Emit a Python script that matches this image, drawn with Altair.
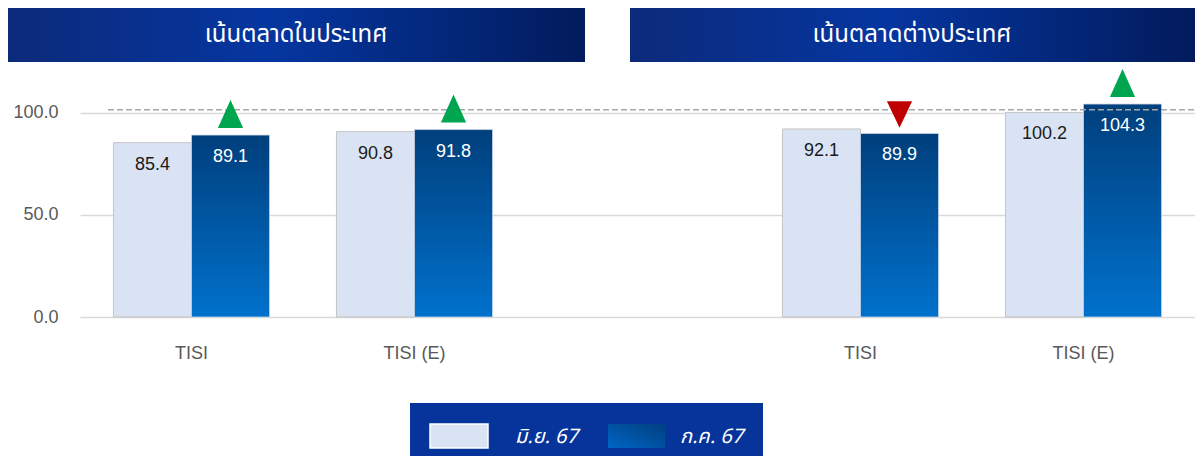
import altair as alt
import pandas as pd

# ---- data -------------------------------------------------------------
panels = ["เน้นตลาดในประเทศ", "เน้นตลาดต่างประเทศ"]
indices = ["TISI", "TISI (E)"]
series = ["มิ.ย. 67", "ก.ค. 67"]
jun_values = [85.4, 90.8, 92.1, 100.2]
jul_values = [89.1, 91.8, 89.9, 104.3]
y_ticks = [0, 50, 100]
reference_level = [101.5]

keys = [f"{p}|{i}" for p in panels for i in indices]
x_domain = keys[:2] + ["gap"] + keys[2:]

bars_df = pd.DataFrame({
    "key": keys * 2,
    "series": [series[0]] * len(keys) + [series[1]] * len(keys),
    "value": jun_values + jul_values,
})
arrow_df = pd.DataFrame({
    "key": keys,
    "series": [series[1]] * len(keys),
    "value": jul_values,
    "prev": jun_values,
})
level_df = pd.DataFrame({"value": reference_level})
one = pd.DataFrame({"_": [0]})

# ---- styles -----------------------------------------------------------
NUM_FONT = "Liberation Sans Narrow, Arial Narrow, Liberation Sans, Arial"
THAI_FONT = "Noto Sans Thai, Tahoma, Noto Sans, sans-serif"
LIGHT = "#dae3f3"
GRAD_BAR = alt.Gradient(
    gradient="linear",
    stops=[alt.GradientStop(color="#003f7c", offset=0),
           alt.GradientStop(color="#0071cc", offset=1)],
    x1=0, x2=0, y1=0, y2=1,
)
GRAD_BANNER = alt.Gradient(
    gradient="linear",
    stops=[alt.GradientStop(color="#0c2a7a", offset=0),
           alt.GradientStop(color="#0536a0", offset=0.45),
           alt.GradientStop(color="#021b5c", offset=1)],
    x1=0, x2=1, y1=0, y2=0,
)
GRAD_SWATCH = alt.Gradient(
    gradient="linear",
    stops=[alt.GradientStop(color="#0065c4", offset=0),
           alt.GradientStop(color="#003f80", offset=1)],
    x1=0, x2=1, y1=1, y2=0,
)

x_enc = alt.X(
    "key:N",
    scale=alt.Scale(domain=x_domain, paddingInner=0.3, paddingOuter=0.15),
    axis=alt.Axis(
        title=None, labelAngle=0, ticks=False, domain=False, grid=False,
        labelExpr="indexof(datum.label, '|') >= 0 ? split(datum.label, '|')[1] : ''",
        labelPadding=27, labelFont=NUM_FONT, labelFontSize=18, labelColor="#595959",
    ),
)
xoff = alt.XOffset("series:N", scale=alt.Scale(domain=series, paddingInner=0, paddingOuter=0))
y_enc = alt.Y(
    "value:Q",
    scale=alt.Scale(domain=[0, 120], nice=False),
    axis=alt.Axis(
        title=None, values=y_ticks, format=".1f", ticks=False, domain=False,
        labelPadding=22, gridColor="#d9d9d9", gridWidth=1.5,
        labelFont=NUM_FONT, labelFontSize=18, labelColor="#595959",
    ),
)

# ---- layers -----------------------------------------------------------
light_bars = alt.Chart(bars_df).transform_filter(
    alt.datum.series == series[0]
).mark_bar(color=LIGHT, stroke="#c4c4c4", strokeWidth=1).encode(
    x=x_enc, xOffset=xoff, y=y_enc
)
dark_bars = alt.Chart(bars_df).transform_filter(
    alt.datum.series == series[1]
).mark_bar(color=GRAD_BAR, stroke="#c9d6ea", strokeWidth=0.8).encode(
    x=x_enc, xOffset=xoff, y=y_enc
)
light_labels = alt.Chart(bars_df).transform_filter(
    alt.datum.series == series[0]
).mark_text(dy=22, baseline="middle", font=NUM_FONT, fontSize=18, color="#1a1a1a").encode(
    x=x_enc, xOffset=xoff, y=y_enc, text=alt.Text("value:Q", format=".1f")
)
dark_labels = alt.Chart(bars_df).transform_filter(
    alt.datum.series == series[1]
).mark_text(dy=22, baseline="middle", font=NUM_FONT, fontSize=18, color="white").encode(
    x=x_enc, xOffset=xoff, y=y_enc, text=alt.Text("value:Q", format=".1f")
)
UP = "M0,-2.5L0.9,-0.5L-0.9,-0.5Z"
DOWN = "M-0.9,-2.3L0.9,-2.3L0,-0.4Z"
arrows = alt.Chart(arrow_df).mark_point(filled=True, size=784, opacity=1, strokeWidth=0).encode(
    x=x_enc, xOffset=xoff, y=y_enc,
    shape=alt.condition("datum.value >= datum.prev", alt.value(UP), alt.value(DOWN)),
    color=alt.condition("datum.value >= datum.prev", alt.value("#00a550"), alt.value("#c00000")),
)
level_rule = alt.Chart(level_df).mark_rule(
    color="#a6a6a6", strokeDash=[6, 3], strokeWidth=1.5
).encode(x=alt.value(28), x2=alt.value(1115), y=y_enc)

# banners
banner_left = alt.Chart(one).mark_rect(color=GRAD_BANNER).encode(
    x=alt.value(-72), x2=alt.value(505), y=alt.value(-64), y2=alt.value(-10))
banner_right = alt.Chart(one).mark_rect(color=GRAD_BANNER).encode(
    x=alt.value(550), x2=alt.value(1115), y=alt.value(-64), y2=alt.value(-10))
banner_text_left = alt.Chart(one).mark_text(
    text=panels[0], font=THAI_FONT, fontSize=24, color="white", align="center", baseline="middle"
).encode(x=alt.value(216), y=alt.value(-37))
banner_text_right = alt.Chart(one).mark_text(
    text=panels[1], font=THAI_FONT, fontSize=24, color="white", align="center", baseline="middle"
).encode(x=alt.value(832), y=alt.value(-37))

# legend
legend_box = alt.Chart(one).mark_rect(color="#06349a").encode(
    x=alt.value(330), x2=alt.value(683), y=alt.value(331), y2=alt.value(391))
sw_light = alt.Chart(one).mark_rect(color=LIGHT, stroke="white", strokeWidth=1.5).encode(
    x=alt.value(350), x2=alt.value(408), y=alt.value(352), y2=alt.value(376))
sw_dark = alt.Chart(one).mark_rect(color=GRAD_SWATCH).encode(
    x=alt.value(528), x2=alt.value(585), y=alt.value(352), y2=alt.value(376))
lg_text1 = alt.Chart(one).mark_text(
    text=series[0], font=THAI_FONT, fontSize=20, fontStyle="italic", color="white",
    align="left", baseline="middle"
).encode(x=alt.value(435), y=alt.value(365))
lg_text2 = alt.Chart(one).mark_text(
    text=series[1], font=THAI_FONT, fontSize=20, fontStyle="italic", color="white",
    align="left", baseline="middle"
).encode(x=alt.value(600), y=alt.value(365))

chart = alt.layer(
    light_bars, dark_bars, light_labels, dark_labels, level_rule, arrows,
    banner_left, banner_right, banner_text_left, banner_text_right,
    legend_box, sw_light, sw_dark, lg_text1, lg_text2,
).properties(
    width=1115, height=245,
    autosize=alt.AutoSizeParams(type="none"),
    padding={"left": 72, "top": 64, "right": 0, "bottom": 139},
    background="white",
).configure_view(stroke=None)

chart.save("out.html", embed_options={"renderer": "svg", "actions": False})
